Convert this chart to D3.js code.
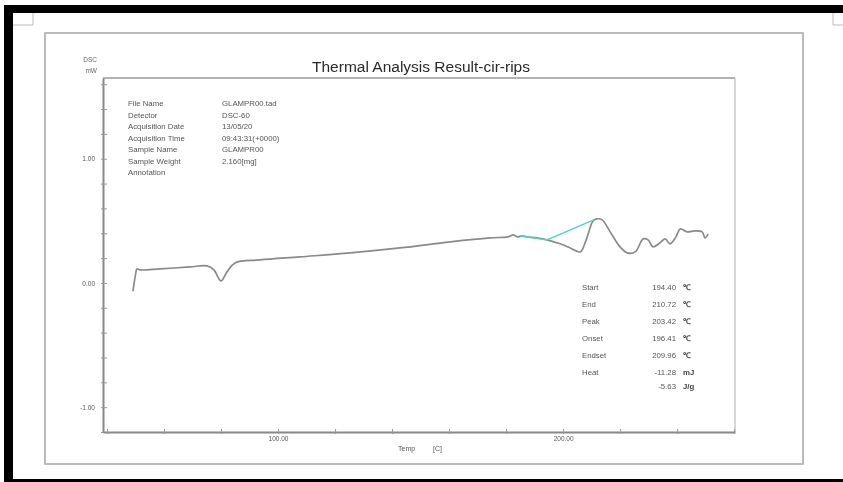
<!DOCTYPE html>
<html>
<head>
<meta charset="utf-8">
<script src="https://cdn.jsdelivr.net/npm/d3@7/dist/d3.min.js"></script>
<style>
  html, body { margin: 0; padding: 0; background: #fff; }
  svg { display: block; filter: blur(0.65px); }
  text { font-family: "Liberation Sans", Arial, sans-serif; }
</style>
</head>
<body>
<svg id="chart" width="843" height="482"></svg>
<script>
// DSC trace: temperature (°C) and heat flow (mW)
const tempC = [49.1, 50.0, 50.5, 51.6, 58.6, 69.1, 75.1, 77.5, 80.0, 82.1, 84.9, 93.7,
  107.7, 125.3, 142.8, 160.4, 174.4, 180.7, 182.5, 183.9, 185.6, 187.4, 190.9, 194.4,
  198.9, 202.5, 206.0, 208.1, 210.5, 211.9, 213.7, 216.5, 220.0, 222.5, 225.3, 228.1,
  229.8, 231.6, 234.0, 235.8, 237.5, 239.6, 241.1, 243.5, 246.3, 248.8, 249.8, 250.9];
const dscMW = [-0.065, 0.065, 0.113, 0.105, 0.113, 0.129, 0.137, 0.105, 0.016, 0.089, 0.161, 0.185,
  0.210, 0.242, 0.282, 0.331, 0.363, 0.371, 0.387, 0.371, 0.379, 0.371, 0.363, 0.347,
  0.315, 0.282, 0.250, 0.347, 0.500, 0.516, 0.508, 0.411, 0.290, 0.242, 0.250, 0.355,
  0.347, 0.290, 0.323, 0.355, 0.315, 0.371, 0.435, 0.411, 0.419, 0.411, 0.363, 0.395];

// peak baseline (start -> end) and tangent lead-in
const baselineT = [194.4, 210.72];
const baselineV = [0.347, 0.508];
const tangentT = [185.0, 194.4];
const tangentV = [0.378, 0.347];

// axis ticks
const xTicks = [40, 60, 80, 100, 120, 140, 160, 180, 200, 220, 240, 260];
const xLabeled = [100, 200];
const yTicks = [-1.2, -1.0, -0.8, -0.6, -0.4, -0.2, 0, 0.2, 0.4, 0.6, 0.8, 1.0, 1.2, 1.4, 1.6];
const yLabeled = [-1, 0, 1];

// header info
const infoKeys = ["File Name", "Detector", "Acquisition Date", "Acquisition Time",
  "Sample Name", "Sample Weight", "Annotation"];
const infoVals = ["GLAMPR00.tad", "DSC-60", "13/05/20", "09:43:31(+0000)",
  "GLAMPR00", "2.160[mg]", ""];

// peak analysis results
const resKeys = ["Start", "End", "Peak", "Onset", "Endset", "Heat", ""];
const resVals = ["194.40", "210.72", "203.42", "196.41", "209.96", "-11.28", "-5.63"];
const resUnits = ["\u2103", "\u2103", "\u2103", "\u2103", "\u2103", "mJ", "J/g"];

const svg = d3.select("#chart");

// page frame (black edges of the scanned sheet)
svg.append("rect").attr("x", 4).attr("y", 5).attr("width", 839).attr("height", 8).attr("fill", "#000");
svg.append("rect").attr("x", 4).attr("y", 5).attr("width", 9).attr("height", 477).attr("fill", "#000");
svg.append("rect").attr("x", 4).attr("y", 479).attr("width", 839).attr("height", 3).attr("fill", "#000");

// crop corner marks
svg.append("path").attr("d", "M33,13 V25 H13").attr("fill", "none").attr("stroke", "#bbb").attr("stroke-width", 1);
svg.append("path").attr("d", "M833,13 V25 H843").attr("fill", "none").attr("stroke", "#bbb").attr("stroke-width", 1);

// report border
svg.append("rect").attr("x", 45).attr("y", 33).attr("width", 758).attr("height", 431)
  .attr("fill", "none").attr("stroke", "#aaa").attr("stroke-width", 1.6);

const plotL = 103, plotR = 735, plotT = 78, plotB = 432;
const x = d3.scaleLinear().domain([38.6, 260.3]).range([plotL, plotR]);
const y = d3.scaleLinear().domain([-1.2, 1.65]).range([plotB, plotT]);

// title
svg.append("text").attr("x", 421).attr("y", 72).attr("text-anchor", "middle")
  .attr("font-size", 15.5).attr("fill", "#2a2a2a").text("Thermal Analysis Result-cir-rips");

// plot frame
svg.append("line").attr("x1", plotL).attr("x2", plotR).attr("y1", plotT).attr("y2", plotT)
  .attr("stroke", "#999").attr("stroke-width", 1.4);
svg.append("line").attr("x1", plotR).attr("x2", plotR).attr("y1", plotT).attr("y2", plotB)
  .attr("stroke", "#bbb").attr("stroke-width", 1.2);

const fmt = d => (d < 0 ? "-" : "") + Math.abs(d).toFixed(2);

// y axis
const yAxis = d3.axisLeft(y).tickValues(yTicks).tickSizeOuter(0).tickSizeInner(-4).tickPadding(8)
  .tickFormat(d => yLabeled.some(v => Math.abs(v - d) < 1e-6) ? fmt(d) : "");
const gy = svg.append("g").attr("transform", `translate(${plotL},0)`).call(yAxis);
gy.select(".domain").attr("stroke", "#888").attr("stroke-width", 2);
gy.selectAll(".tick line").attr("stroke", "#999").attr("stroke-width", 1).attr("x1", -2);
gy.selectAll(".tick text").attr("font-size", 6.5).attr("fill", "#555").attr("font-family", "Liberation Sans, Arial, sans-serif");

// x axis
const xAxis = d3.axisBottom(x).tickValues(xTicks).tickSizeOuter(0).tickSizeInner(-3).tickPadding(4)
  .tickFormat(d => xLabeled.includes(d) ? d.toFixed(2) : "");
const gx = svg.append("g").attr("transform", `translate(0,${plotB})`).call(xAxis);
gx.select(".domain").attr("stroke", "#888").attr("stroke-width", 2);
gx.selectAll(".tick line").attr("stroke", "#999").attr("stroke-width", 1).attr("y1", 2);
gx.selectAll(".tick text").attr("font-size", 6.5).attr("fill", "#555").attr("font-family", "Liberation Sans, Arial, sans-serif");

// axis titles
svg.append("text").attr("x", 97).attr("y", 62).attr("text-anchor", "end").attr("font-size", 6.5).attr("fill", "#666").text("DSC");
svg.append("text").attr("x", 97).attr("y", 73).attr("text-anchor", "end").attr("font-size", 6.5).attr("fill", "#666").text("mW");
svg.append("text").attr("x", 398).attr("y", 451).attr("font-size", 7).attr("fill", "#555").text("Temp");
svg.append("text").attr("x", 433).attr("y", 451).attr("font-size", 7).attr("fill", "#555").text("[C]");

// header block
const info = svg.append("g").attr("font-size", 7.8).attr("fill", "#555");
infoKeys.forEach((k, i) => {
  info.append("text").attr("x", 128).attr("y", 106 + i * 11.5).text(k);
  info.append("text").attr("x", 222).attr("y", 106 + i * 11.5).text(infoVals[i]);
});

// results block
const res = svg.append("g").attr("font-size", 7.8).attr("fill", "#555");
resKeys.forEach((k, i) => {
  const yy = i < 6 ? 290 + i * 17 : 389;
  if (k) res.append("text").attr("x", 582).attr("y", yy).text(k);
  res.append("text").attr("x", 676).attr("y", yy).attr("text-anchor", "end").text(resVals[i]);
  res.append("text").attr("x", 683).attr("y", yy).attr("font-weight", "bold").attr("fill", "#444").text(resUnits[i]);
});

// DSC curve (smoothed trace)
const curveLine = d3.line().x(d => x(d[0])).y(d => y(d[1])).curve(d3.curveCatmullRom.alpha(0.5));
const straight = d3.line().x(d => x(d[0])).y(d => y(d[1]));
svg.append("path").datum(tempC.map((t, i) => [t, dscMW[i]]))
  .attr("d", curveLine).attr("fill", "none").attr("stroke", "#8a8a8a").attr("stroke-width", 1.7)
  .attr("stroke-linejoin", "round");

// analysis baseline
svg.append("path").datum(baselineT.map((t, i) => [t, baselineV[i]]))
  .attr("d", straight).attr("fill", "none").attr("stroke", "#4fd6c2").attr("stroke-width", 1.4);
svg.append("path").datum(tangentT.map((t, i) => [t, tangentV[i]]))
  .attr("d", straight).attr("fill", "none").attr("stroke", "#4fd6c2").attr("stroke-width", 1.4);
</script>
</body>
</html>
